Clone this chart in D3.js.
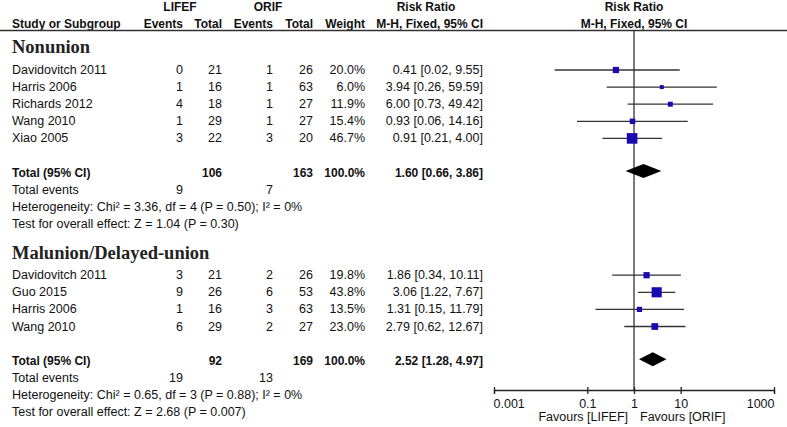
<!DOCTYPE html>
<html>
<head>
<meta charset="utf-8">
<script src="https://cdn.jsdelivr.net/npm/d3@7"></script>
<style>
  html, body { margin: 0; padding: 0; background: #fff; }
  svg { display: block; }
  text { font-family: "Liberation Sans", Arial, sans-serif; font-size: 12.5px; fill: #111; }
  .b { font-weight: bold; font-size: 12px; }
  .sec { font-family: "Liberation Serif", "Times New Roman", serif; font-weight: bold; font-size: 18.5px; fill: #222; }
</style>
</head>
<body>
<svg id="chart" width="787" height="427"></svg>
<script>
// ---------------- data ----------------
const nonunionStudies   = ["Davidovitch 2011", "Harris 2006", "Richards 2012", "Wang 2010", "Xiao 2005"];
const nonunionLifefEv   = [0, 1, 4, 1, 3];
const nonunionLifefTot  = [21, 16, 18, 29, 22];
const nonunionOrifEv    = [1, 1, 1, 1, 3];
const nonunionOrifTot   = [26, 63, 27, 27, 20];
const nonunionWeight    = [20.0, 6.0, 11.9, 15.4, 46.7];
const nonunionRR        = [0.41, 3.94, 6.00, 0.93, 0.91];
const nonunionLow       = [0.02, 0.26, 0.73, 0.06, 0.21];
const nonunionHigh      = [9.55, 59.59, 49.42, 14.16, 4.00];
const nonunionTotals    = [106, 163];          // LIFEF total, ORIF total
const nonunionEvents    = [9, 7];              // total events LIFEF, ORIF
const nonunionPooled    = [1.60, 0.66, 3.86];  // RR, low, high
const nonunionHet       = "Heterogeneity: Chi\u00B2 = 3.36, df = 4 (P = 0.50); I\u00B2 = 0%";
const nonunionTest      = "Test for overall effect: Z = 1.04 (P = 0.30)";

const malunionStudies   = ["Davidovitch 2011", "Guo 2015", "Harris 2006", "Wang 2010"];
const malunionLifefEv   = [3, 9, 1, 6];
const malunionLifefTot  = [21, 26, 16, 29];
const malunionOrifEv    = [2, 6, 3, 2];
const malunionOrifTot   = [26, 53, 63, 27];
const malunionWeight    = [19.8, 43.8, 13.5, 23.0];
const malunionRR        = [1.86, 3.06, 1.31, 2.79];
const malunionLow       = [0.34, 1.22, 0.15, 0.62];
const malunionHigh      = [10.11, 7.67, 11.79, 12.67];
const malunionTotals    = [92, 169];
const malunionEvents    = [19, 13];
const malunionPooled    = [2.52, 1.28, 4.97];
const malunionHet       = "Heterogeneity: Chi\u00B2 = 0.65, df = 3 (P = 0.88); I\u00B2 = 0%";
const malunionTest      = "Test for overall effect: Z = 2.68 (P = 0.007)";

const groupNames  = ["Nonunion", "Malunion/Delayed-union"];
const axisTicks   = [0.001, 0.1, 1, 10, 1000];
const tickLabels  = ["0.001", "0.1", "1", "10", "1000"];
const favourLeft  = "Favours [LIFEF]";
const favourRight = "Favours [ORIF]";

// ---------------- build ----------------
function mkGroup(name, studies, le, lt, oe, ot, w, rr, lo, hi, tot, ev, pooled, het, test) {
  return {
    name,
    rows: studies.map((s, i) => ({ study: s, le: le[i], lt: lt[i], oe: oe[i], ot: ot[i], w: w[i], rr: rr[i], lo: lo[i], hi: hi[i] })),
    tot, ev, pooled, het, test
  };
}
const groups = [
  mkGroup(groupNames[0], nonunionStudies, nonunionLifefEv, nonunionLifefTot, nonunionOrifEv, nonunionOrifTot,
          nonunionWeight, nonunionRR, nonunionLow, nonunionHigh, nonunionTotals, nonunionEvents, nonunionPooled, nonunionHet, nonunionTest),
  mkGroup(groupNames[1], malunionStudies, malunionLifefEv, malunionLifefTot, malunionOrifEv, malunionOrifTot,
          malunionWeight, malunionRR, malunionLow, malunionHigh, malunionTotals, malunionEvents, malunionPooled, malunionHet, malunionTest)
];

const svg = d3.select("#chart");
const fmt2 = d3.format(".2f");
const fmtW = d3.format(".1f");
const ciText = (r, l, h) => `${fmt2(r)} [${fmt2(l)}, ${fmt2(h)}]`;

// layout columns
const col = { study: 12, le: 183, lt: 222, oe: 273, ot: 313, w: 365, rr: 483 };
const x = d3.scaleLog().domain([0.001, 1000]).range([494, 774]);
const rowY = d3.scaleLinear().domain([0, 20]).range([74, 416]);   // text baselines by row index
const sq = d3.scaleLinear().domain([0, 46.7]).range([3, 10.6]);
const axisY = 390, headLineY = 30.5;

// header
const hdr = svg.append("g");
hdr.append("text").attr("class", "b").attr("x", 180).attr("y", 11).attr("text-anchor", "middle").text("LIFEF");
hdr.append("text").attr("class", "b").attr("x", 268).attr("y", 11).attr("text-anchor", "middle").text("ORIF");
hdr.append("text").attr("class", "b").attr("x", 426).attr("y", 11).attr("text-anchor", "middle").text("Risk Ratio");
hdr.append("text").attr("class", "b").attr("x", x(1)).attr("y", 11).attr("text-anchor", "middle").text("Risk Ratio");
const h2 = [["Study or Subgroup", col.study, "start"], ["Events", col.le, "end"], ["Total", col.lt, "end"],
            ["Events", col.oe, "end"], ["Total", col.ot, "end"], ["Weight", col.w, "end"],
            ["M-H, Fixed, 95% CI", col.rr, "end"], ["M-H, Fixed, 95% CI", x(1), "middle"]];
h2.forEach(([t, xx, a]) => hdr.append("text").attr("class", "b").attr("x", xx).attr("y", 27.5).attr("text-anchor", a).text(t));
svg.append("line").attr("x1", 0).attr("x2", 787).attr("y1", headLineY).attr("y2", headLineY)
  .attr("stroke", "#333").attr("stroke-width", 1.3);

// null line
svg.append("line").attr("x1", x(1)).attr("x2", x(1)).attr("y1", headLineY).attr("y2", axisY)
  .attr("stroke", "#333").attr("stroke-width", 1.3);

// groups
let r = 0;
groups.forEach((g, gi) => {
  const G = svg.append("g");
  G.append("text").attr("class", "sec").attr("x", col.study).attr("y", rowY(r - 1.2)).text(g.name);
  g.rows.forEach(d => {
    const y = rowY(r);
    const row = G.append("g");
    row.append("text").attr("x", col.study).attr("y", y).text(d.study);
    row.append("text").attr("x", col.le).attr("y", y).attr("text-anchor", "end").text(d.le);
    row.append("text").attr("x", col.lt).attr("y", y).attr("text-anchor", "end").text(d.lt);
    row.append("text").attr("x", col.oe).attr("y", y).attr("text-anchor", "end").text(d.oe);
    row.append("text").attr("x", col.ot).attr("y", y).attr("text-anchor", "end").text(d.ot);
    row.append("text").attr("x", col.w).attr("y", y).attr("text-anchor", "end").text(fmtW(d.w) + "%");
    row.append("text").attr("x", col.rr).attr("y", y).attr("text-anchor", "end").text(ciText(d.rr, d.lo, d.hi));
    const cy = y - 4;
    row.append("line").attr("x1", x(d.lo)).attr("x2", x(d.hi)).attr("y1", cy).attr("y2", cy)
      .attr("stroke", "#333").attr("stroke-width", 1.3);
    const s = sq(d.w);
    row.append("rect").attr("x", x(d.rr) - s / 2).attr("y", cy - s / 2).attr("width", s).attr("height", s)
      .attr("fill", "#1a08b0");
    r++;
  });
  r++; // blank row
  const yT = rowY(r);
  G.append("text").attr("class", "b").attr("x", col.study).attr("y", yT).text("Total (95% CI)");
  G.append("text").attr("class", "b").attr("x", col.lt).attr("y", yT).attr("text-anchor", "end").text(g.tot[0]);
  G.append("text").attr("class", "b").attr("x", col.ot).attr("y", yT).attr("text-anchor", "end").text(g.tot[1]);
  G.append("text").attr("class", "b").attr("x", col.w).attr("y", yT).attr("text-anchor", "end").text("100.0%");
  G.append("text").attr("class", "b").attr("x", col.rr).attr("y", yT).attr("text-anchor", "end")
    .text(ciText(g.pooled[0], g.pooled[1], g.pooled[2]));
  const dy = yT - 5.5;
  G.append("path").attr("fill", "#000")
    .attr("d", `M${x(g.pooled[1])},${dy} L${x(g.pooled[0])},${dy - 7} L${x(g.pooled[2])},${dy} L${x(g.pooled[0])},${dy + 7} Z`);
  r++;
  const yE = rowY(r);
  G.append("text").attr("x", col.study).attr("y", yE).text("Total events");
  G.append("text").attr("x", col.le).attr("y", yE).attr("text-anchor", "end").text(g.ev[0]);
  G.append("text").attr("x", col.oe).attr("y", yE).attr("text-anchor", "end").text(g.ev[1]);
  r++;
  G.append("text").attr("x", col.study).attr("y", rowY(r)).text(g.het);
  r++;
  G.append("text").attr("x", col.study).attr("y", rowY(r)).text(g.test);
  r += 3; // gap + heading row for next group
});

// axis
const ax = svg.append("g").attr("transform", `translate(0,${axisY})`)
  .call(d3.axisBottom(x).tickValues(axisTicks).tickFormat((d, i) => tickLabels[i]).tickSize(4).tickPadding(5));
ax.select(".domain").attr("stroke", "#222").attr("stroke-width", 1.3);
ax.selectAll(".tick line").attr("y1", -3).attr("stroke", "#222").attr("stroke-width", 1.3);
ax.selectAll(".tick text").attr("font-size", 12.5).attr("font-family", "Liberation Sans, Arial, sans-serif").attr("fill", "#111")
  .attr("text-anchor", (d, i) => i === 0 ? "start" : (i === axisTicks.length - 1 ? "end" : "middle"))
  .attr("dx", (d, i) => i === 0 ? -1 : 0);
svg.append("text").attr("x", x(1) - 6).attr("y", 421).attr("text-anchor", "end").text(favourLeft);
svg.append("text").attr("x", x(1) + 6).attr("y", 421).attr("text-anchor", "start").text(favourRight);
</script>
</body>
</html>
